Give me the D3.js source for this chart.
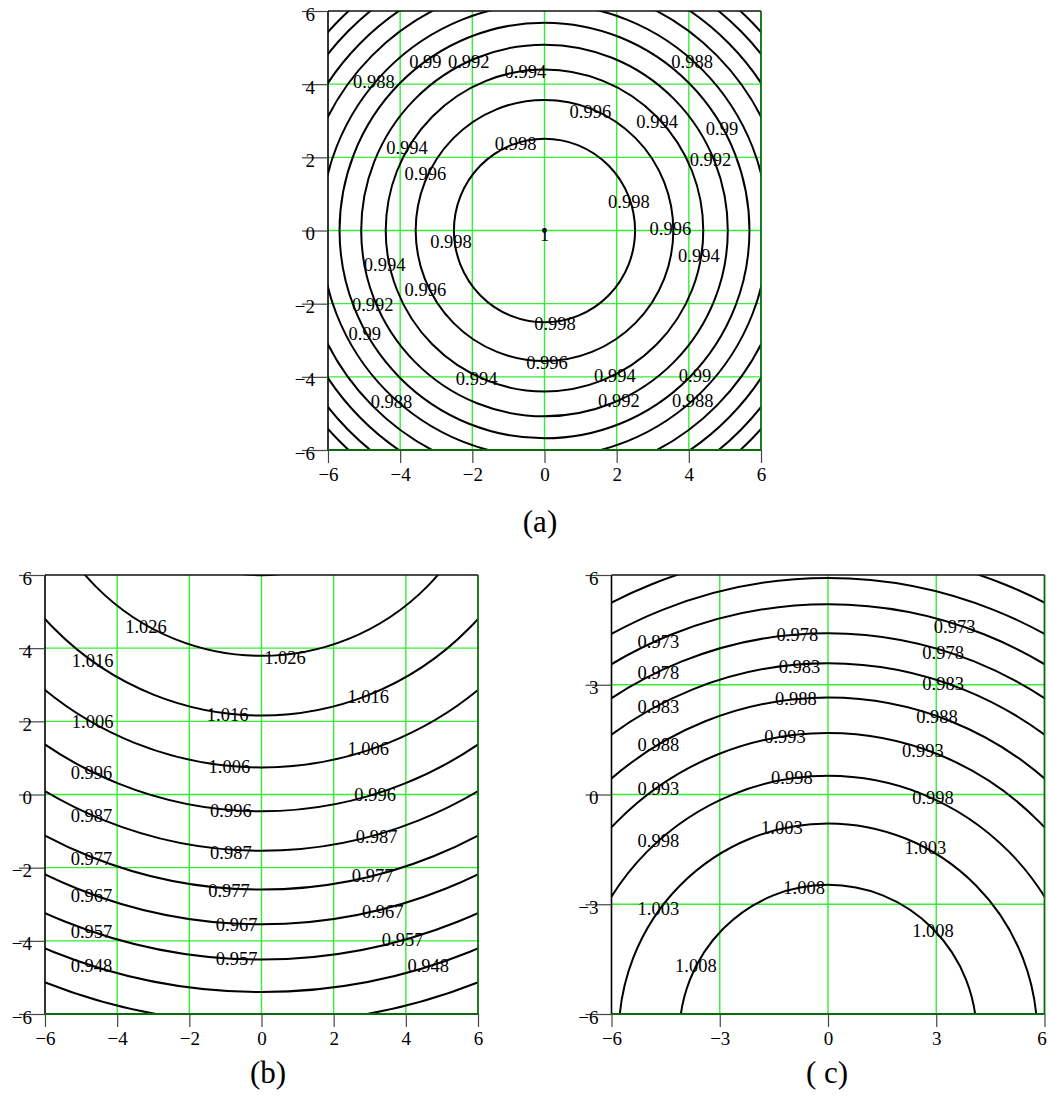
<!DOCTYPE html>
<html>
<head>
<meta charset="utf-8">
<script src="https://cdn.jsdelivr.net/npm/d3@7"></script>
<style>
  body { margin: 0; background: #fff; }
  text { font-family: "Liberation Serif", "Times New Roman", serif; fill: #000; }
</style>
</head>
<body>
<svg id="chart" width="1048" height="1100"></svg>
<script>
// ---------- Panel (a): concentric contours around the origin ----------
const aLevels = [1, 0.998, 0.996, 0.994, 0.992, 0.99, 0.988, 0.986, 0.984, 0.982, 0.98];
const aRadii  = [0.04, 2.51, 3.57, 4.40, 5.08, 5.68, 6.20, 6.76, 7.23, 7.70, 8.09];
const aCenterY = 0;
const aTicks = [-6, -4, -2, 0, 2, 4, 6];
// contour labels: [text, x, y]
const aLabels = [
  ["0.99", -3.30, 4.61], ["0.992", -2.10, 4.61], ["0.994", -0.53, 4.34], ["0.988", 4.09, 4.61],
  ["0.988", -4.73, 4.07], ["0.996", 1.27, 3.25], ["0.994", 3.12, 2.97], ["0.99", 4.92, 2.77],
  ["0.994", -3.81, 2.25], ["0.998", -0.80, 2.36], ["0.992", 4.60, 1.93], ["0.996", -3.30, 1.54],
  ["0.998", 2.34, 0.79], ["0.996", 3.49, 0.06], ["1", 0.0, -0.12], ["0.998", -2.59, -0.31],
  ["0.994", 4.28, -0.70], ["0.994", -4.43, -0.94], ["0.996", -3.30, -1.63], ["0.992", -4.76, -2.04],
  ["0.998", 0.29, -2.56], ["0.99", -4.98, -2.81], ["0.996", 0.07, -3.61], ["0.994", -1.88, -4.04],
  ["0.994", 1.95, -3.98], ["0.99", 4.17, -3.98], ["0.988", -4.24, -4.68], ["0.992", 2.06, -4.65],
  ["0.988", 4.11, -4.65]
];

// ---------- Panel (b): arcs bending upward, centre of curvature above the plot ----------
const bLevels = [1.036, 1.026, 1.016, 1.006, 0.996, 0.987, 0.977, 0.967, 0.957, 0.948, 0.938];
const bApexY  = [5.995, 3.79, 2.16, 0.74, -0.46, -1.54, -2.60, -3.55, -4.51, -5.40, -6.26];
const bCenterY = 10.3;
const bTicks = [-6, -4, -2, 0, 2, 4, 6];
const bLabels = [
  ["1.026", -3.20, 4.59], ["1.026", 0.65, 3.74], ["1.016", -4.68, 3.65], ["1.016", 2.96, 2.66],
  ["1.016", -0.94, 2.17], ["1.006", -4.68, 2.00], ["1.006", 2.96, 1.26], ["1.006", -0.89, 0.75],
  ["0.996", -4.71, 0.59], ["0.996", 3.15, 0.00], ["0.996", -0.85, -0.45], ["0.987", -4.71, -0.59],
  ["0.987", 3.19, -1.15], ["0.987", -0.85, -1.58], ["0.977", -4.71, -1.75], ["0.977", 3.08, -2.22],
  ["0.977", -0.90, -2.63], ["0.967", -4.71, -2.78], ["0.967", 3.36, -3.20], ["0.967", -0.69, -3.57],
  ["0.957", -4.71, -3.76], ["0.957", 3.91, -3.98], ["0.957", -0.69, -4.49], ["0.948", -4.71, -4.68],
  ["0.948", 4.62, -4.68]
];

// ---------- Panel (c): arcs bending downward, centre of curvature below the plot ----------
const cLevels = [1.008, 1.003, 0.998, 0.993, 0.988, 0.983, 0.978, 0.973, 0.968, 0.963];
const cApexY  = [-2.47, -0.79, 0.51, 1.68, 2.65, 3.59, 4.41, 5.20, 5.92, 6.68];
const cCenterY = -6.59;
const cTicks = [-6, -3, 0, 3, 6];
const cLabels = [
  ["0.973", 3.51, 4.59], ["0.973", -4.70, 4.18], ["0.978", -0.85, 4.37], ["0.978", 3.19, 3.88],
  ["0.978", -4.70, 3.34], ["0.983", -0.79, 3.48], ["0.983", 3.19, 3.02], ["0.983", -4.70, 2.39],
  ["0.988", -0.89, 2.61], ["0.988", 3.02, 2.12], ["0.988", -4.70, 1.36], ["0.993", -1.19, 1.58],
  ["0.993", 2.63, 1.20], ["0.993", -4.70, 0.16], ["0.998", -1.00, 0.45], ["0.998", 2.91, -0.09],
  ["0.998", -4.70, -1.25], ["1.003", -1.28, -0.92], ["1.003", 2.70, -1.46], ["1.003", -4.70, -3.13],
  ["1.008", -0.66, -2.56], ["1.008", 2.91, -3.72], ["1.008", -3.66, -4.68]
];

const captions = ["(a)", "(b)", "( c)"];

// ---------- layout & style ----------
const SERIF = '"Liberation Serif", "Times New Roman", serif';
const GRID = "#33ee33";
const EDGE_DARK = "#0b6b0b";
const panels = [
  { box: { left: 328, top: 11, width: 433, height: 439 }, ticks: aTicks, labels: aLabels,
    rings: aRadii.map((r, i) => ({ level: aLevels[i], cy: aCenterY, r })),
    caption: captions[0], capX: 540, capY: 532 },
  { box: { left: 45, top: 575, width: 433, height: 439 }, ticks: bTicks, labels: bLabels,
    rings: bApexY.map((a, i) => ({ level: bLevels[i], cy: bCenterY, r: bCenterY - a })),
    caption: captions[1], capX: 268, capY: 1083 },
  { box: { left: 611.5, top: 575, width: 433, height: 439 }, ticks: cTicks, labels: cLabels,
    rings: cApexY.map((a, i) => ({ level: cLevels[i], cy: cCenterY, r: a - cCenterY })),
    caption: captions[2], capX: 827, capY: 1083 }
];

const svg = d3.select("#chart");
const pageWidth = +svg.attr("width");

panels.forEach((p, idx) => {
  const b = p.box;
  const x = d3.scaleLinear().domain([-6, 6]).range([b.left, b.left + b.width]);
  const y = d3.scaleLinear().domain([-6, 6]).range([b.top + b.height, b.top]);
  const g = svg.append("g");
  const clipId = "plot-clip-" + idx;

  svg.append("clipPath").attr("id", clipId)
    .append("rect")
    .attr("x", x(-6)).attr("y", y(6))
    .attr("width", x(6) - x(-6)).attr("height", y(-6) - y(6));

  // grid
  const inner = p.ticks.filter(t => t > -6 && t < 6);
  g.append("g").selectAll("line.gx").data(inner).join("line")
    .attr("x1", d => x(d)).attr("x2", d => x(d))
    .attr("y1", y(-6)).attr("y2", y(6))
    .attr("stroke", GRID).attr("stroke-width", 1.4);
  g.append("g").selectAll("line.gy").data(inner).join("line")
    .attr("y1", d => y(d)).attr("y2", d => y(d))
    .attr("x1", x(-6)).attr("x2", x(6))
    .attr("stroke", GRID).attr("stroke-width", 1.4);

  // contour lines
  g.append("g").attr("clip-path", `url(#${clipId})`)
    .selectAll("ellipse").data(p.rings).join("ellipse")
    .attr("cx", x(0))
    .attr("cy", d => y(d.cy))
    .attr("rx", d => x(d.r) - x(0))
    .attr("ry", d => y(0) - y(d.r))
    .attr("fill", "none")
    .attr("stroke", "#000")
    .attr("stroke-width", 2);

  // frame: black top/left, dark green bottom/right
  g.append("line").attr("x1", x(-6)).attr("x2", x(6)).attr("y1", y(6)).attr("y2", y(6))
    .attr("stroke", "#111").attr("stroke-width", 1.4);
  g.append("line").attr("x1", x(-6)).attr("x2", x(-6)).attr("y1", y(6)).attr("y2", y(-6))
    .attr("stroke", "#000").attr("stroke-width", 1.6);
  g.append("line").attr("x1", x(-6)).attr("x2", x(6)).attr("y1", y(-6)).attr("y2", y(-6))
    .attr("stroke", EDGE_DARK).attr("stroke-width", 2.2);
  g.append("line").attr("x1", x(6)).attr("x2", x(6)).attr("y1", y(6)).attr("y2", y(-6))
    .attr("stroke", EDGE_DARK).attr("stroke-width", 1.8);

  // axes
  const ax = g.append("g").attr("transform", `translate(0,${y(-6)})`)
    .call(d3.axisBottom(x).tickValues(p.ticks).tickSize(13).tickPadding(5));
  const ay = g.append("g").attr("transform", `translate(${x(-6)},0)`)
    .call(d3.axisLeft(y).tickValues(p.ticks).tickSize(26).tickPadding(-13));
  [ax, ay].forEach(a => {
    a.select(".domain").remove();
    a.attr("font-family", null).attr("font-size", null);
    a.selectAll(".tick line").attr("stroke", "#444").attr("stroke-width", 1.2);
    a.selectAll(".tick text")
      .style("font-family", SERIF)
      .style("font-size", "19px")
      .attr("fill", "#000");
  });
  ay.selectAll(".tick text").attr("dy", "0.48em");
  ax.selectAll(".tick text").attr("dy", "0.71em");
  // keep the last bottom label inside the page
  ax.selectAll(".tick text").filter(d => x(d) + 6 > pageWidth).attr("dx", -3);

  // contour labels
  g.append("g").selectAll("text").data(p.labels).join("text")
    .attr("x", d => x(d[1]))
    .attr("y", d => y(d[2]))
    .attr("dy", "0.34em")
    .attr("text-anchor", "middle")
    .style("font-family", SERIF)
    .style("font-size", "18.5px")
    .text(d => d[0]);

  // caption
  svg.append("text")
    .attr("x", p.capX).attr("y", p.capY)
    .attr("text-anchor", "middle")
    .style("font-family", SERIF)
    .style("font-size", "31px")
    .text(p.caption);
});
</script>
</body>
</html>
